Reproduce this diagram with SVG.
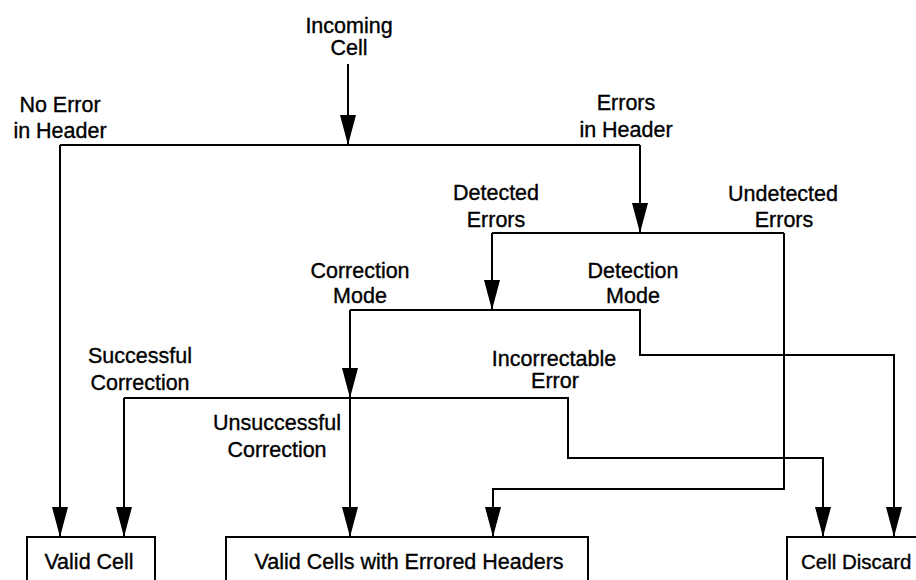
<svg xmlns="http://www.w3.org/2000/svg" width="916" height="580" viewBox="0 0 916 580">
<style>
.ln{fill:none;stroke:#000;stroke-width:2;stroke-linejoin:miter}
.ar{marker-end:url(#ah)}
.box{fill:#fff;stroke:#000;stroke-width:2}
text{font-family:"Liberation Sans",Arial,Helvetica,sans-serif;font-size:21.5px;fill:#000;stroke:#000;stroke-width:0.35}
.c{text-anchor:middle}
</style>
<defs>
<marker id="ah" viewBox="0 -9 31 18" refX="30" refY="0" markerWidth="31" markerHeight="18" markerUnits="userSpaceOnUse" orient="auto">
<path d="M0,-8 L30,0 L0,8 Z" fill="#000"/>
</marker>
</defs>
<rect width="916" height="580" fill="#fff"/>
<g id="connectors">
<path class="ln ar" d="M348,64 V145"/>
<path class="ln" d="M60,145 H640"/>
<path class="ln ar" d="M60,145 V537"/>
<path class="ln ar" d="M640,145 V233"/>
<path class="ln" d="M492,233 H784"/>
<path class="ln ar" d="M492,233 V310"/>
<path class="ln ar" d="M350,310 H640 V355 H894 V537"/>
<path class="ln ar" d="M350,310 V398"/>
<path class="ln ar" d="M124,398 H568 V458 H823 V537"/>
<path class="ln ar" d="M124,398 V537"/>
<path class="ln ar" d="M350,398 V537"/>
<path class="ln ar" d="M784,233 V489 H493 V537"/>
</g>
<g id="labels">
<text class="c" x="349" y="33">Incoming</text>
<text class="c" x="349" y="55">Cell</text>
<text class="c" x="60" y="112">No Error</text>
<text class="c" x="60" y="138">in Header</text>
<text class="c" x="626" y="110">Errors</text>
<text class="c" x="626" y="137">in Header</text>
<text class="c" x="496" y="200">Detected</text>
<text class="c" x="496" y="227">Errors</text>
<text class="c" x="783" y="201">Undetected</text>
<text class="c" x="784" y="227">Errors</text>
<text class="c" x="360" y="278">Correction</text>
<text class="c" x="360" y="303">Mode</text>
<text class="c" x="633" y="278">Detection</text>
<text class="c" x="633" y="303">Mode</text>
<text class="c" x="140" y="363">Successful</text>
<text class="c" x="140" y="390">Correction</text>
<text class="c" x="554" y="366">Incorrectable</text>
<text class="c" x="555" y="388">Error</text>
<text class="c" x="277" y="430">Unsuccessful</text>
<text class="c" x="277" y="457">Correction</text>
</g>
<g id="valid-cell">
<rect class="box" x="27" y="537" width="128" height="60"/>
<text class="c" x="89" y="569">Valid Cell</text>
</g>
<g id="valid-cells-errored">
<rect class="box" x="226" y="537" width="362" height="60"/>
<text class="c" x="409" y="569">Valid Cells with Errored Headers</text>
</g>
<g id="cell-discard">
<rect class="box" x="787" y="537" width="160" height="60"/>
<text x="801" y="569" style="font-size:20.5px">Cell Discard</text>
</g>
</svg>
